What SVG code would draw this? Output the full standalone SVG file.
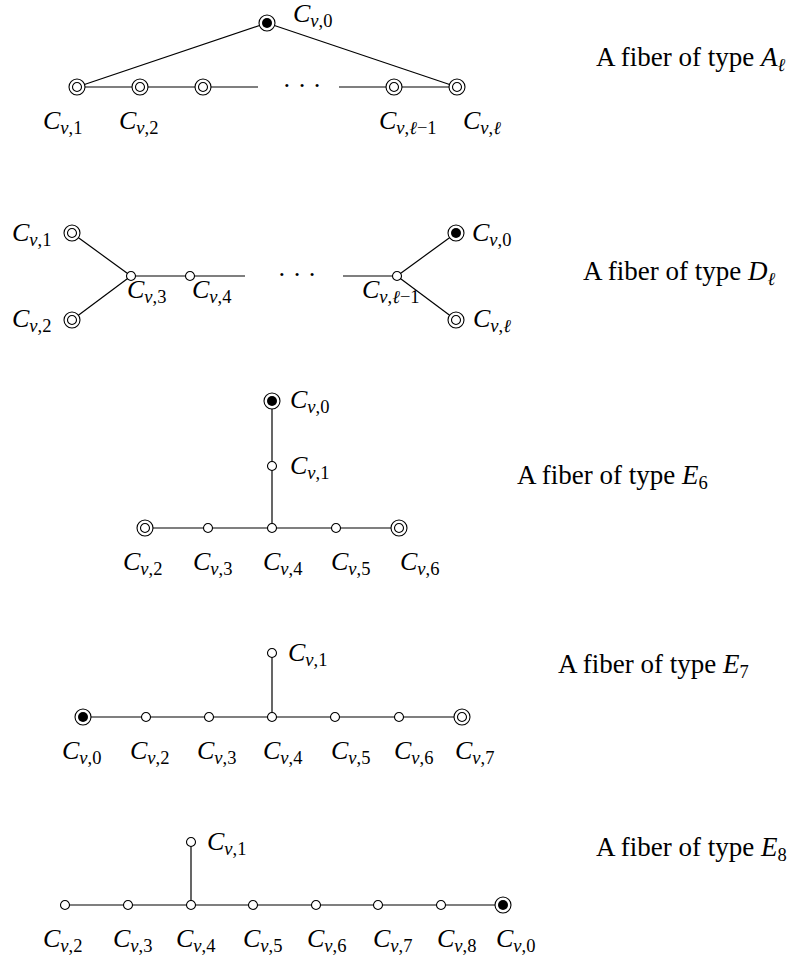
<svg xmlns="http://www.w3.org/2000/svg" xmlns:xlink="http://www.w3.org/1999/xlink" width="798" height="956" viewBox="0 0 798 956">
<style>
.ln{stroke:#000;stroke-width:1.2;fill:none}
.o{fill:#fff;stroke:#000;stroke-width:1.1}
.f{fill:#000}
text{font-family:"Liberation Serif","Times New Roman",serif;font-size:26px;fill:#000}
.sub{font-size:18.5px}
.it{font-style:italic}
.ttl{font-size:27px}
</style>
<defs>
<g id="dbl"><circle r="8" class="o"/><circle r="4.5" class="o"/></g>
<g id="tgt"><circle r="8" class="o"/><circle r="5" class="f"/></g>
<g id="sm"><circle r="4.5" class="o"/></g>
</defs>
<rect width="798" height="956" fill="#fff"/>
<g id="connectors">
<!-- A -->
<line class="ln" x1="267" y1="23" x2="77" y2="87"/>
<line class="ln" x1="267" y1="23" x2="457" y2="87"/>
<line class="ln" x1="77" y1="87" x2="258" y2="87"/>
<line class="ln" x1="339" y1="87" x2="457" y2="87"/>
<!-- D -->
<line class="ln" x1="72" y1="233" x2="131" y2="276"/>
<line class="ln" x1="72" y1="320" x2="131" y2="276"/>
<line class="ln" x1="131" y1="276" x2="245" y2="276"/>
<line class="ln" x1="343" y1="276" x2="397" y2="276"/>
<line class="ln" x1="397" y1="276" x2="456" y2="233"/>
<line class="ln" x1="397" y1="276" x2="456" y2="320"/>
<!-- E6 -->
<line class="ln" x1="272" y1="401" x2="272" y2="528"/>
<line class="ln" x1="145" y1="528" x2="399" y2="528"/>
<!-- E7 -->
<line class="ln" x1="272" y1="653" x2="272" y2="717"/>
<line class="ln" x1="83" y1="717" x2="462" y2="717"/>
<!-- E8 -->
<line class="ln" x1="191" y1="842" x2="191" y2="905"/>
<line class="ln" x1="65" y1="905" x2="503" y2="905"/>
</g>
<g id="ellipses">
<text x="302" y="94" text-anchor="middle">· · ·</text>
<text x="297" y="283" text-anchor="middle">· · ·</text>
</g>
<!-- A_l fiber -->
<g id="A-C0"><use xlink:href="#tgt" x="267" y="23"/><text x="293" y="22"><tspan class="it">C</tspan><tspan class="sub" dy="5"><tspan class="it">ν</tspan>,0</tspan></text></g>
<g id="A-C1"><use xlink:href="#dbl" x="77" y="87"/><text x="43" y="129"><tspan class="it">C</tspan><tspan class="sub" dy="5"><tspan class="it">ν</tspan>,1</tspan></text></g>
<g id="A-C2"><use xlink:href="#dbl" x="140" y="87"/><text x="119" y="129"><tspan class="it">C</tspan><tspan class="sub" dy="5"><tspan class="it">ν</tspan>,2</tspan></text></g>
<g id="A-C3"><use xlink:href="#dbl" x="203" y="87"/></g>
<g id="A-Clm1"><use xlink:href="#dbl" x="394" y="87"/><text x="379" y="129"><tspan class="it">C</tspan><tspan class="sub" dy="5"><tspan class="it">ν</tspan>,<tspan class="it">ℓ</tspan>−1</tspan></text></g>
<g id="A-Cl"><use xlink:href="#dbl" x="457" y="87"/><text x="463" y="129"><tspan class="it">C</tspan><tspan class="sub" dy="5"><tspan class="it">ν</tspan>,<tspan class="it">ℓ</tspan></tspan></text></g>
<text id="title-A" class="ttl" x="596" y="66">A fiber of type <tspan class="it">A</tspan><tspan class="sub it" dy="5">ℓ</tspan></text>
<!-- D_l fiber -->
<g id="D-C1"><use xlink:href="#dbl" x="72" y="233"/><text x="12" y="241"><tspan class="it">C</tspan><tspan class="sub" dy="5"><tspan class="it">ν</tspan>,1</tspan></text></g>
<g id="D-C2"><use xlink:href="#dbl" x="72" y="320"/><text x="12" y="327"><tspan class="it">C</tspan><tspan class="sub" dy="5"><tspan class="it">ν</tspan>,2</tspan></text></g>
<g id="D-C3"><use xlink:href="#sm" x="131" y="276"/><text x="127" y="298"><tspan class="it">C</tspan><tspan class="sub" dy="5"><tspan class="it">ν</tspan>,3</tspan></text></g>
<g id="D-C4"><use xlink:href="#sm" x="190" y="276"/><text x="192" y="298"><tspan class="it">C</tspan><tspan class="sub" dy="5"><tspan class="it">ν</tspan>,4</tspan></text></g>
<g id="D-Clm1"><use xlink:href="#sm" x="397" y="276"/><text x="362" y="298"><tspan class="it">C</tspan><tspan class="sub" dy="5"><tspan class="it">ν</tspan>,<tspan class="it">ℓ</tspan>−1</tspan></text></g>
<g id="D-C0"><use xlink:href="#tgt" x="456" y="233"/><text x="472" y="241"><tspan class="it">C</tspan><tspan class="sub" dy="5"><tspan class="it">ν</tspan>,0</tspan></text></g>
<g id="D-Cl"><use xlink:href="#dbl" x="456" y="320"/><text x="473" y="327"><tspan class="it">C</tspan><tspan class="sub" dy="5"><tspan class="it">ν</tspan>,<tspan class="it">ℓ</tspan></tspan></text></g>
<text id="title-D" class="ttl" x="583" y="280">A fiber of type <tspan class="it">D</tspan><tspan class="sub it" dy="5">ℓ</tspan></text>
<!-- E6 fiber -->
<g id="E6-C0"><use xlink:href="#tgt" x="272" y="401"/><text x="290" y="408"><tspan class="it">C</tspan><tspan class="sub" dy="5"><tspan class="it">ν</tspan>,0</tspan></text></g>
<g id="E6-C1"><use xlink:href="#sm" x="272" y="466"/><text x="290" y="474"><tspan class="it">C</tspan><tspan class="sub" dy="5"><tspan class="it">ν</tspan>,1</tspan></text></g>
<g id="E6-C2"><use xlink:href="#dbl" x="145" y="528"/><text x="123" y="570"><tspan class="it">C</tspan><tspan class="sub" dy="5"><tspan class="it">ν</tspan>,2</tspan></text></g>
<g id="E6-C3"><use xlink:href="#sm" x="208" y="528"/><text x="193" y="570"><tspan class="it">C</tspan><tspan class="sub" dy="5"><tspan class="it">ν</tspan>,3</tspan></text></g>
<g id="E6-C4"><use xlink:href="#sm" x="272" y="528"/><text x="263" y="570"><tspan class="it">C</tspan><tspan class="sub" dy="5"><tspan class="it">ν</tspan>,4</tspan></text></g>
<g id="E6-C5"><use xlink:href="#sm" x="336" y="528"/><text x="331" y="570"><tspan class="it">C</tspan><tspan class="sub" dy="5"><tspan class="it">ν</tspan>,5</tspan></text></g>
<g id="E6-C6"><use xlink:href="#dbl" x="399" y="528"/><text x="400" y="570"><tspan class="it">C</tspan><tspan class="sub" dy="5"><tspan class="it">ν</tspan>,6</tspan></text></g>
<text id="title-E6" class="ttl" x="517" y="484">A fiber of type <tspan class="it">E</tspan><tspan class="sub" dy="5">6</tspan></text>
<!-- E7 fiber -->
<g id="E7-C1"><use xlink:href="#sm" x="272" y="653"/><text x="288" y="661"><tspan class="it">C</tspan><tspan class="sub" dy="5"><tspan class="it">ν</tspan>,1</tspan></text></g>
<g id="E7-C0"><use xlink:href="#tgt" x="83" y="717"/><text x="62" y="759"><tspan class="it">C</tspan><tspan class="sub" dy="5"><tspan class="it">ν</tspan>,0</tspan></text></g>
<g id="E7-C2"><use xlink:href="#sm" x="146" y="717"/><text x="130" y="759"><tspan class="it">C</tspan><tspan class="sub" dy="5"><tspan class="it">ν</tspan>,2</tspan></text></g>
<g id="E7-C3"><use xlink:href="#sm" x="209" y="717"/><text x="197" y="759"><tspan class="it">C</tspan><tspan class="sub" dy="5"><tspan class="it">ν</tspan>,3</tspan></text></g>
<g id="E7-C4"><use xlink:href="#sm" x="272" y="717"/><text x="263" y="759"><tspan class="it">C</tspan><tspan class="sub" dy="5"><tspan class="it">ν</tspan>,4</tspan></text></g>
<g id="E7-C5"><use xlink:href="#sm" x="335" y="717"/><text x="331" y="759"><tspan class="it">C</tspan><tspan class="sub" dy="5"><tspan class="it">ν</tspan>,5</tspan></text></g>
<g id="E7-C6"><use xlink:href="#sm" x="399" y="717"/><text x="394" y="759"><tspan class="it">C</tspan><tspan class="sub" dy="5"><tspan class="it">ν</tspan>,6</tspan></text></g>
<g id="E7-C7"><use xlink:href="#dbl" x="462" y="717"/><text x="455" y="759"><tspan class="it">C</tspan><tspan class="sub" dy="5"><tspan class="it">ν</tspan>,7</tspan></text></g>
<text id="title-E7" class="ttl" x="558" y="673">A fiber of type <tspan class="it">E</tspan><tspan class="sub" dy="5">7</tspan></text>
<!-- E8 fiber -->
<g id="E8-C1"><use xlink:href="#sm" x="191" y="842"/><text x="207" y="850"><tspan class="it">C</tspan><tspan class="sub" dy="5"><tspan class="it">ν</tspan>,1</tspan></text></g>
<g id="E8-C2"><use xlink:href="#sm" x="65" y="905"/><text x="43" y="947"><tspan class="it">C</tspan><tspan class="sub" dy="5"><tspan class="it">ν</tspan>,2</tspan></text></g>
<g id="E8-C3"><use xlink:href="#sm" x="128" y="905"/><text x="113" y="947"><tspan class="it">C</tspan><tspan class="sub" dy="5"><tspan class="it">ν</tspan>,3</tspan></text></g>
<g id="E8-C4"><use xlink:href="#sm" x="191" y="905"/><text x="176" y="947"><tspan class="it">C</tspan><tspan class="sub" dy="5"><tspan class="it">ν</tspan>,4</tspan></text></g>
<g id="E8-C5"><use xlink:href="#sm" x="253" y="905"/><text x="243" y="947"><tspan class="it">C</tspan><tspan class="sub" dy="5"><tspan class="it">ν</tspan>,5</tspan></text></g>
<g id="E8-C6"><use xlink:href="#sm" x="316" y="905"/><text x="307" y="947"><tspan class="it">C</tspan><tspan class="sub" dy="5"><tspan class="it">ν</tspan>,6</tspan></text></g>
<g id="E8-C7"><use xlink:href="#sm" x="378" y="905"/><text x="373" y="947"><tspan class="it">C</tspan><tspan class="sub" dy="5"><tspan class="it">ν</tspan>,7</tspan></text></g>
<g id="E8-C8"><use xlink:href="#sm" x="441" y="905"/><text x="437" y="947"><tspan class="it">C</tspan><tspan class="sub" dy="5"><tspan class="it">ν</tspan>,8</tspan></text></g>
<g id="E8-C0"><use xlink:href="#tgt" x="503" y="905"/><text x="496" y="947"><tspan class="it">C</tspan><tspan class="sub" dy="5"><tspan class="it">ν</tspan>,0</tspan></text></g>
<text id="title-E8" class="ttl" x="596" y="856">A fiber of type <tspan class="it">E</tspan><tspan class="sub" dy="5">8</tspan></text>
</svg>
